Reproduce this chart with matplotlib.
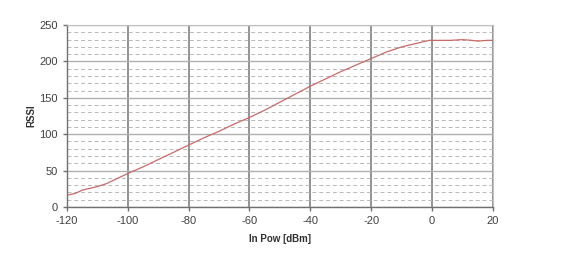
import matplotlib
matplotlib.use("Agg")
import matplotlib.pyplot as plt
from matplotlib.ticker import MultipleLocator

plt.rcParams['font.family'] = ['Liberation Sans', 'DejaVu Sans']
plt.rcParams['axes.unicode_minus'] = False

# curva RSSI x potencia de entrada
pot_dbm = [-120, -117, -115, -112, -110, -107, -105, -100, -95, -90, -85, -80, -75, -70,
           -65, -60, -55, -50, -45, -40, -35, -30, -25, -20, -15, -10, -5, -1, 0,
           3, 6, 10, 13, 15, 18, 20]
rssi = [16, 19, 23, 26, 28, 32, 36, 46, 55, 65, 75, 85, 95, 104,
        114, 123, 133, 144, 155, 166, 176, 186, 195, 204, 213, 220, 225, 229, 229,
        229, 229, 230, 229, 228, 229, 229]

fig = plt.figure(figsize=(5.66, 2.64), dpi=100)
ax = fig.add_axes([0.118, 0.216, 0.753, 0.689])

ax.plot(pot_dbm, rssi, color='#c86a68', linewidth=0.9, zorder=3)

ax.set_xlim(-120, 20)
ax.set_ylim(0, 250)
ax.xaxis.set_major_locator(MultipleLocator(20))
ax.yaxis.set_major_locator(MultipleLocator(50))
ax.yaxis.set_minor_locator(MultipleLocator(10))

ax.grid(True, which='major', axis='x', color='#808080', linewidth=1.2)
ax.grid(True, which='major', axis='y', color='#b0b0b0', linewidth=1.0)
ax.grid(True, which='minor', axis='y', color='#b8b8b8', linewidth=0.7, linestyle=(0, (4, 3)))

for lado in ['top', 'right']:
    ax.spines[lado].set_color('#c0c0c0')
for lado in ['left', 'bottom']:
    ax.spines[lado].set_color('#707070')
    ax.spines[lado].set_linewidth(1.0)

ax.tick_params(axis='both', which='major', labelsize=8, colors='#707070',
               labelcolor='#404040', length=3, width=1)
ax.tick_params(axis='y', which='minor', length=0)

ax.set_xlabel('In Pow [dBm]', fontsize=7, fontweight='bold', color='#303030', labelpad=6)
ax.set_ylabel('RSSI', fontsize=7, fontweight='bold', color='#303030', labelpad=2)

fig.savefig('out.png', dpi=100)
